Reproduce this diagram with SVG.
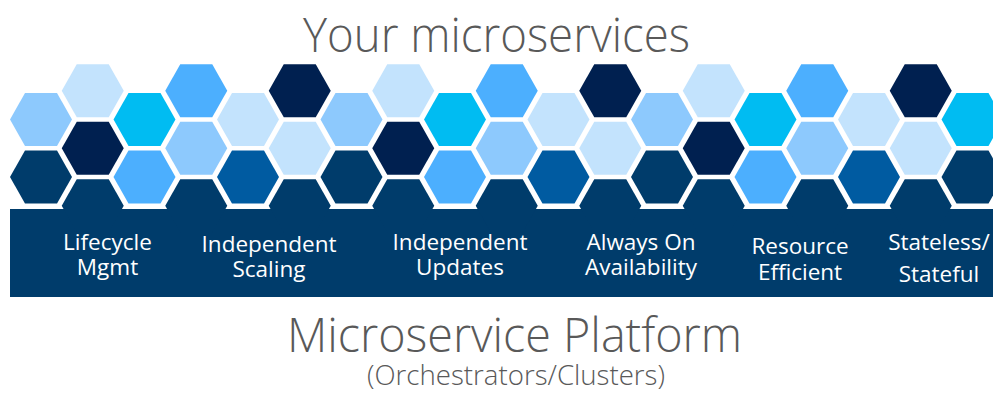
<svg xmlns="http://www.w3.org/2000/svg" xmlns:xlink="http://www.w3.org/1999/xlink" width="993" height="393" viewBox="0 0 993 393">
<style>
.vl{fill:#C3E3FD}.l{fill:#8DC9FD}.b{fill:#4CAFFE}.cy{fill:#00BCF2}.mb{fill:#005BA1}.nv{fill:#003C6B}.dk{fill:#002050}
.title{font-family:"Open Sans","Segoe UI","Liberation Sans",sans-serif;font-weight:300;fill:#595959;text-anchor:middle}
.lbl{font-family:"Open Sans","Segoe UI","Liberation Sans",sans-serif;font-size:22.5px;fill:#FFFFFF;text-anchor:middle}
</style>
<defs>
<polygon id="hx" points="-31,0 -16,-26.5 16,-26.5 31,0 16,26.5 -16,26.5"/>
</defs>
<rect width="993" height="393" fill="#FFFFFF"/>
<g id="title"><text class="title" x="496.5" y="51.5" font-size="48" textLength="387" lengthAdjust="spacingAndGlyphs">Your microservices</text></g>
<g id="hexes">
<use href="#hx" x="41" y="119.5" class="l"/><use href="#hx" x="41" y="177" class="nv"/>
<use href="#hx" x="92.75" y="90.75" class="vl"/><use href="#hx" x="92.75" y="148.25" class="dk"/>
<use href="#hx" x="144.5" y="119.5" class="cy"/><use href="#hx" x="144.5" y="177" class="b"/>
<use href="#hx" x="196.25" y="90.75" class="b"/><use href="#hx" x="196.25" y="148.25" class="l"/>
<use href="#hx" x="248" y="119.5" class="vl"/><use href="#hx" x="248" y="177" class="mb"/>
<use href="#hx" x="299.75" y="90.75" class="dk"/><use href="#hx" x="299.75" y="148.25" class="vl"/>
<use href="#hx" x="351.5" y="119.5" class="l"/><use href="#hx" x="351.5" y="177" class="nv"/>
<use href="#hx" x="403.25" y="90.75" class="vl"/><use href="#hx" x="403.25" y="148.25" class="dk"/>
<use href="#hx" x="455" y="119.5" class="cy"/><use href="#hx" x="455" y="177" class="b"/>
<use href="#hx" x="506.75" y="90.75" class="b"/><use href="#hx" x="506.75" y="148.25" class="l"/>
<use href="#hx" x="558.5" y="119.5" class="vl"/><use href="#hx" x="558.5" y="177" class="mb"/>
<use href="#hx" x="610.25" y="90.75" class="dk"/><use href="#hx" x="610.25" y="148.25" class="vl"/>
<use href="#hx" x="662" y="119.5" class="l"/><use href="#hx" x="662" y="177" class="nv"/>
<use href="#hx" x="713.75" y="90.75" class="vl"/><use href="#hx" x="713.75" y="148.25" class="dk"/>
<use href="#hx" x="765.5" y="119.5" class="cy"/><use href="#hx" x="765.5" y="177" class="b"/>
<use href="#hx" x="817.25" y="90.75" class="b"/><use href="#hx" x="817.25" y="148.25" class="l"/>
<use href="#hx" x="869" y="119.5" class="vl"/><use href="#hx" x="869" y="177" class="mb"/>
<use href="#hx" x="920.75" y="90.75" class="dk"/><use href="#hx" x="920.75" y="148.25" class="vl"/>
<use href="#hx" x="972.5" y="119.5" class="cy"/><use href="#hx" x="972.5" y="177" class="nv"/>
</g>
<g id="platform-band">
<rect x="10" y="209" width="983" height="88" class="nv"/>
<use href="#hx" x="92.75" y="205.75" class="nv"/>
<use href="#hx" x="196.25" y="205.75" class="nv"/>
<use href="#hx" x="299.75" y="205.75" class="nv"/>
<use href="#hx" x="403.25" y="205.75" class="nv"/>
<use href="#hx" x="506.75" y="205.75" class="nv"/>
<use href="#hx" x="610.25" y="205.75" class="nv"/>
<use href="#hx" x="713.75" y="205.75" class="nv"/>
<use href="#hx" x="817.25" y="205.75" class="nv"/>
<use href="#hx" x="920.75" y="205.75" class="nv"/>
</g>
<g id="label-lifecycle"><text class="lbl" x="107.5" y="250">Lifecycle</text><text class="lbl" x="107.5" y="275">Mgmt</text></g>
<g id="label-scaling"><text class="lbl" x="269" y="252">Independent</text><text class="lbl" x="269" y="277">Scaling</text></g>
<g id="label-updates"><text class="lbl" x="460" y="250">Independent</text><text class="lbl" x="460" y="275">Updates</text></g>
<g id="label-availability"><text class="lbl" x="641" y="250">Always On</text><text class="lbl" x="641" y="275">Availability</text></g>
<g id="label-resource"><text class="lbl" x="800" y="254">Resource</text><text class="lbl" x="800" y="280">Efficient</text></g>
<g id="label-stateful"><text class="lbl" x="939" y="250">Stateless/</text><text class="lbl" x="939" y="281.5">Stateful</text></g>
<g id="platform-title">
<text class="title" x="514.5" y="352" font-size="48" textLength="455" lengthAdjust="spacingAndGlyphs">Microservice Platform</text>
<text class="title" x="516" y="385" font-size="28" textLength="298" lengthAdjust="spacingAndGlyphs">(Orchestrators/Clusters)</text>
</g>
</svg>
